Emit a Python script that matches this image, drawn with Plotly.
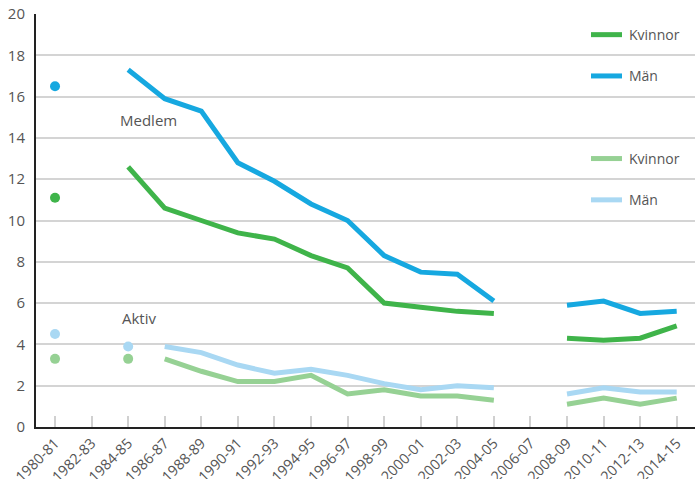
import plotly.graph_objects as go

periods = ["1980-81", "1982-83", "1984-85", "1986-87", "1988-89", "1990-91", "1992-93",
           "1994-95", "1996-97", "1998-99", "2000-01", "2002-03", "2004-05", "2006-07",
           "2008-09", "2010-11", "2012-13", "2014-15"]

# Medlem (members) - connected lines from 1984-85
medlem_kvinnor = [None, None, 12.6, 10.6, 10.0, 9.4, 9.1, 8.3, 7.7, 6.0, 5.8, 5.6, 5.5, None, 4.3, 4.2, 4.3, 4.9]
medlem_man = [None, None, 17.3, 15.9, 15.3, 12.8, 11.9, 10.8, 10.0, 8.3, 7.5, 7.4, 6.1, None, 5.9, 6.1, 5.5, 5.6]
# Medlem isolated points
medlem_kvinnor_dots = [11.1, None, None, None, None, None, None, None, None, None, None, None, None, None, None, None, None, None]
medlem_man_dots = [16.5, None, None, None, None, None, None, None, None, None, None, None, None, None, None, None, None, None]

# Aktiv (active) - connected lines from 1986-87
aktiv_kvinnor = [None, None, None, 3.3, 2.7, 2.2, 2.2, 2.5, 1.6, 1.8, 1.5, 1.5, 1.3, None, 1.1, 1.4, 1.1, 1.4]
aktiv_man = [None, None, None, 3.9, 3.6, 3.0, 2.6, 2.8, 2.5, 2.1, 1.8, 2.0, 1.9, None, 1.6, 1.9, 1.7, 1.7]
# Aktiv isolated points
aktiv_kvinnor_dots = [3.3, None, 3.3, None, None, None, None, None, None, None, None, None, None, None, None, None, None, None]
aktiv_man_dots = [4.5, None, 3.9, None, None, None, None, None, None, None, None, None, None, None, None, None, None, None]

y_ticks = [0, 2, 4, 6, 8, 10, 12, 14, 16, 18, 20]

C_MK = "#3fb44a"
C_MM = "#16a8e0"
C_AK = "#96d194"
C_AM = "#a9d8f3"

TXT = "#555555"
FONT = "Open Sans"

fig = go.Figure()

def add_line(vals, color):
    fig.add_trace(go.Scatter(x=periods, y=vals, mode="lines", connectgaps=False,
                             line=dict(color=color, width=5), showlegend=False,
                             hoverinfo="skip"))

def add_dots(vals, color):
    fig.add_trace(go.Scatter(x=periods, y=vals, mode="markers",
                             marker=dict(color=color, size=10), showlegend=False,
                             hoverinfo="skip"))

add_line(aktiv_kvinnor, C_AK)
add_line(aktiv_man, C_AM)
add_dots(aktiv_kvinnor_dots, C_AK)
add_dots(aktiv_man_dots, C_AM)
add_line(medlem_kvinnor, C_MK)
add_line(medlem_man, C_MM)
add_dots(medlem_kvinnor_dots, C_MK)
add_dots(medlem_man_dots, C_MM)

# Legend drawn manually
legend_items = [("Kvinnor", C_MK, 19), ("Män", C_MM, 17), ("Kvinnor", C_AK, 13), ("Män", C_AM, 11)]
x0p = (591 - 36) / 659
x1p = (622 - 36) / 659
xtp = (627 - 36) / 659
for label, color, yv in legend_items:
    fig.add_shape(type="line", xref="paper", yref="y", x0=x0p, x1=x1p, y0=yv, y1=yv,
                  line=dict(color=color, width=5))
    fig.add_annotation(xref="paper", yref="y", x=xtp, y=yv, text=label, showarrow=False,
                       xanchor="left", yanchor="middle",
                       font=dict(family=FONT, size=14, color=TXT))

fig.add_annotation(xref="x", yref="y", x=2.55, y=14.85, text="Medlem", showarrow=False,
                   xanchor="center", yanchor="middle", font=dict(family=FONT, size=15, color=TXT))
fig.add_annotation(xref="x", yref="y", x=2.3, y=5.3, text="Aktiv", showarrow=False,
                   xanchor="center", yanchor="middle", font=dict(family=FONT, size=15, color=TXT))

fig.update_layout(
    width=695, height=479,
    margin=dict(l=36, r=0, t=14, b=52, autoexpand=False),
    paper_bgcolor="white", plot_bgcolor="white",
    font=dict(family=FONT, color=TXT),
)
fig.update_xaxes(
    type="category", categoryorder="array", categoryarray=periods,
    range=[-0.52, 17.5], automargin=False,
    tickangle=-45, tickfont=dict(family=FONT, size=14.5, color=TXT),
    showgrid=False, showline=True, linecolor="#222222", linewidth=2,
    ticks="inside", ticklen=11, tickcolor="#d0d0d0", tickwidth=1.5,
    zeroline=False,
)
fig.update_yaxes(
    range=[0, 20], tickvals=y_ticks, ticktext=[str(v) for v in y_ticks],
    tickfont=dict(family=FONT, size=15, color=TXT), automargin=False,
    showgrid=True, gridcolor="#d4d4d4", gridwidth=1.5,
    showline=True, linecolor="#222222", linewidth=2,
    zeroline=False, ticks="", ticklabelstandoff=6,
)

fig.write_html("out.html", config={"displayModeBar": False},
               post_script="document.body.style.margin='0';document.body.style.overflow='hidden';")
